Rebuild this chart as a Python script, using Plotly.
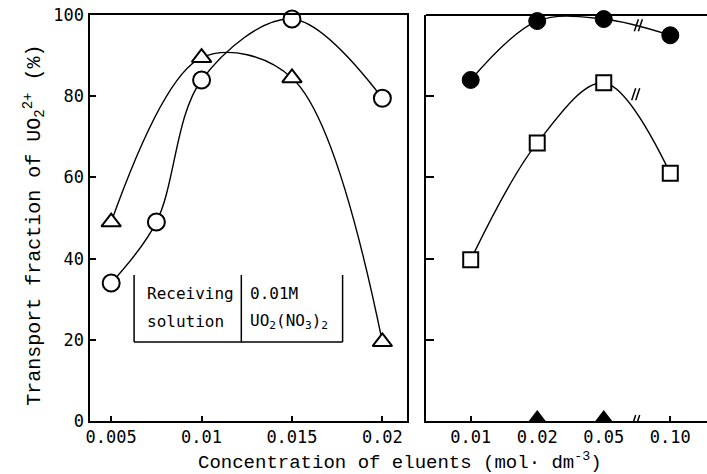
import plotly.graph_objects as go

# ---------------- data ----------------
# left panel (linear concentration axis)
left_tri_x = [0.005, 0.01, 0.015, 0.02]
left_tri_y = [49, 89.5, 84.5, 19.5]
left_circ_x = [0.005, 0.0075, 0.01, 0.015, 0.02]
left_circ_y = [34, 49, 84, 99, 79.5]
left_ticks = [0.005, 0.01, 0.015, 0.02]
left_ticktext = ["0.005", "0.01", "0.015", "0.02"]

# right panel (categorical concentrations with axis break)
right_cats = ["0.01", "0.02", "0.05", "0.10"]
right_pos = [1, 2, 3, 4]
right_fcirc_y = [84, 98.5, 99, 95]
right_sq_y = [39.7, 68.5, 83.3, 61]
right_ftri_pos = [2, 3]
right_ftri_y = [0, 0]

y_ticks = [0, 20, 40, 60, 80, 100]

# ---------------- layout helpers ----------------
W, H = 707, 474
TOP, BOT = 15, 421


def px_x(x):
    return x / W


def px_y(y):
    return (BOT - y) / (BOT - TOP)


TICKFONT = dict(family="DejaVu Sans Mono", size=17, color="black")

fig = go.Figure()

line_style = dict(color="black", width=1.4, shape="spline", smoothing=1.0)
open_marker = dict(color="white", size=17, line=dict(color="black", width=2))

fig.add_trace(go.Scatter(x=left_tri_x, y=left_tri_y, mode="lines+markers",
                         line=line_style,
                         marker=dict(symbol="triangle-up", **open_marker),
                         xaxis="x", yaxis="y", cliponaxis=False))
fig.add_trace(go.Scatter(x=left_circ_x, y=left_circ_y, mode="lines+markers",
                         line=line_style,
                         marker=dict(symbol="circle", **open_marker),
                         xaxis="x", yaxis="y", cliponaxis=False))

fig.add_trace(go.Scatter(x=right_pos, y=right_fcirc_y, mode="lines+markers",
                         line=line_style,
                         marker=dict(symbol="circle", color="black", size=17,
                                     line=dict(color="black", width=1)),
                         xaxis="x2", yaxis="y2", cliponaxis=False))
fig.add_trace(go.Scatter(x=right_pos, y=right_sq_y, mode="lines+markers",
                         line=line_style,
                         marker=dict(symbol="square", color="white", size=15,
                                     line=dict(color="black", width=2)),
                         xaxis="x2", yaxis="y2", cliponaxis=False))
fig.add_trace(go.Scatter(x=right_ftri_pos, y=right_ftri_y, mode="markers",
                         marker=dict(symbol="triangle-up", color="black", size=22,
                                     line=dict(width=0)),
                         xaxis="x2", yaxis="y2", cliponaxis=True))

axis_common = dict(showline=True, linecolor="black", linewidth=2,
                   showgrid=False, zeroline=False, ticks="inside",
                   tickcolor="black", tickwidth=1.5, tickfont=TICKFONT)

fig.update_layout(
    width=W, height=H,
    margin=dict(l=0, r=0, t=TOP, b=H - BOT),
    paper_bgcolor="white", plot_bgcolor="white",
    showlegend=False,
    xaxis=dict(domain=[px_x(86), px_x(405)], range=[0.00385, 0.02137],
               tickvals=left_ticks, ticktext=left_ticktext, ticklen=5,
               mirror=True, anchor="y", **axis_common),
    yaxis=dict(domain=[0, 1], range=[0, 100], tickvals=y_ticks, ticklen=6,
               mirror=True, anchor="x", ticklabelstandoff=1, **axis_common),
    xaxis2=dict(domain=[px_x(424), 1], range=[0.328, 4.552],
                tickvals=right_pos, ticktext=right_cats, ticklen=5,
                anchor="y2", **axis_common),
    yaxis2=dict(domain=[0, 1], range=[0, 100], tickvals=y_ticks[1:-1], ticklen=8,
                showticklabels=False, anchor="x2", **axis_common),
)

# top line of right panel (no right edge in reference)
fig.add_shape(type="line", xref="x2 domain", yref="paper", x0=0, x1=1, y0=1, y1=1,
              line=dict(color="black", width=2))

# axis-break marks: two short slanted strokes
for xb, yb in [(3.52, 97.5), (3.48, 80.5), (3.48, 0)]:
    for dx in (-2, 2):
        fig.add_shape(type="line", xref="x2", yref="y2",
                      xsizemode="pixel", ysizemode="pixel",
                      xanchor=xb, yanchor=yb,
                      x0=dx - 2, x1=dx + 2, y0=-6, y1=6,
                      line=dict(color="black", width=1.5))

# inset "Receiving solution" table
for xv in [130, 238, 340]:
    fig.add_shape(type="line", xref="paper", yref="paper",
                  x0=px_x(xv), x1=px_x(xv), y0=px_y(275), y1=px_y(342),
                  line=dict(color="black", width=1.5))
fig.add_shape(type="line", xref="paper", yref="paper",
              x0=px_x(130), x1=px_x(340), y0=px_y(342), y1=px_y(342),
              line=dict(color="black", width=1.5))

TABLEFONT = dict(family="DejaVu Sans Mono", size=16, color="black")
for txt, xl, yc in [("Receiving", 141, 293), ("solution", 141, 321),
                    ("0.01M", 245, 293),
                    ("UO<sub>2</sub>(NO<sub>3</sub>)<sub>2</sub>", 245, 321)]:
    fig.add_annotation(x=px_x(xl), y=px_y(yc), xref="paper", yref="paper",
                       text=txt, showarrow=False, xanchor="left", yanchor="middle",
                       font=TABLEFONT)

# axis titles
fig.add_annotation(x=px_x(30), y=px_y(225), xref="paper", yref="paper",
                   text="Transport fraction of UO<sub>2</sub><sup>2+</sup> (%)",
                   textangle=-90, showarrow=False, xanchor="center", yanchor="middle",
                   font=dict(family="Liberation Mono", size=20, color="black"))
fig.add_annotation(x=px_x(398), y=px_y(461), xref="paper", yref="paper",
                   text="Concentration of eluents (mol\u00b7 dm<sup>-3</sup>)",
                   showarrow=False, xanchor="center", yanchor="middle",
                   font=dict(family="Liberation Mono", size=19, color="black"))

fig.write_html("out.html")
